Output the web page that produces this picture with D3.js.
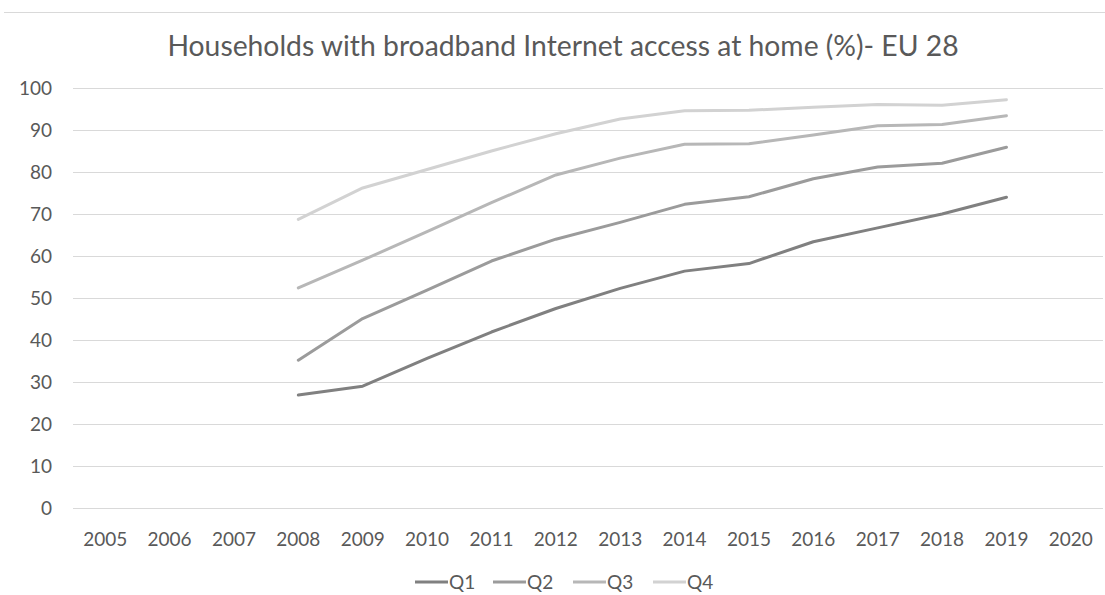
<!DOCTYPE html>
<html><head><meta charset="utf-8">
<script src="https://cdn.jsdelivr.net/npm/d3@7"></script>
<style>body{margin:0;background:#fff;} svg{display:block;font-family:Lato,"Open Sans",sans-serif;}</style>
</head><body>
<svg id="c" width="1105" height="595"></svg>
<script>
const years = ["2005","2006","2007","2008","2009","2010","2011","2012","2013","2014","2015","2016","2017","2018","2019","2020"];
const dataYears = ["2008","2009","2010","2011","2012","2013","2014","2015","2016","2017","2018","2019"];
const q1 = [26.9, 29.0, 35.6, 41.9, 47.5, 52.3, 56.4, 58.2, 63.4, 66.7, 70.0, 74.0];
const q2 = [35.2, 45.1, 51.9, 58.8, 64.0, 68.0, 72.3, 74.1, 78.4, 81.2, 82.1, 85.9];
const q3 = [52.4, 59.0, 65.8, 72.7, 79.3, 83.3, 86.6, 86.7, 88.8, 91.0, 91.3, 93.4];
const q4 = [68.7, 76.2, 80.6, 85.0, 89.1, 92.6, 94.6, 94.7, 95.4, 96.1, 95.9, 97.2];
const seriesNames = ["Q1","Q2","Q3","Q4"];
const yTicks = [0,10,20,30,40,50,60,70,80,90,100];
const title = "Households with broadband Internet access at home (%)- EU 28";

const series = [q1,q2,q3,q4];
const colors = ["#808080","#9b9b9b","#b7b7b7","#d2d2d2"];
const svg = d3.select("#c");
const m = {left:73, right:1103, top:88, bottom:508};
const x = d3.scaleBand().domain(years).range([m.left, m.right]);
const y = d3.scaleLinear().domain([0,100]).range([m.bottom, m.top]);

svg.append("line").attr("x1",4).attr("x2",1105).attr("y1",12.5).attr("y2",12.5).attr("stroke","#d9d9d9").attr("stroke-width",1);

svg.append("text").attr("x",563).attr("y",56).attr("text-anchor","middle")
  .attr("font-size",28.3).attr("fill","#595959").text(title);

const gy = svg.append("g");
gy.selectAll("line").data(yTicks).join("line")
  .attr("x1",m.left).attr("x2",m.right)
  .attr("y1",d=>Math.round(y(d))+0.5).attr("y2",d=>Math.round(y(d))+0.5)
  .attr("stroke","#d9d9d9").attr("stroke-width",1);
gy.selectAll("text").data(yTicks).join("text")
  .attr("x",52).attr("y",d=>y(d)).attr("dy","0.35em").attr("text-anchor","end")
  .attr("font-size",19).attr("fill","#595959").text(d=>d);

const xa = d3.axisBottom(x).tickSize(0).tickPadding(0);
const gx = svg.append("g").attr("transform",`translate(0,${m.bottom})`).call(xa);
gx.select(".domain").remove();
gx.selectAll("text").attr("font-size",19).attr("fill","#595959").attr("font-family","Lato").attr("dy","0").attr("y",38);

const line = d3.line().x((d,i)=>x(dataYears[i])+x.bandwidth()/2).y(d=>y(d));
series.forEach((s,i)=>{
  svg.append("path").datum(s).attr("d",line).attr("fill","none")
    .attr("stroke",colors[i]).attr("stroke-width",3).attr("stroke-linecap","round").attr("stroke-linejoin","round");
});

const legX = [415,493,573,653];
const lg = svg.append("g");
seriesNames.forEach((n,i)=>{
  lg.append("line").attr("x1",legX[i]).attr("x2",legX[i]+33).attr("y1",582).attr("y2",582)
    .attr("stroke",colors[i]).attr("stroke-width",3);
  lg.append("text").attr("x",legX[i]+34).attr("y",582).attr("dy","0.35em")
    .attr("font-size",19).attr("fill","#595959").text(n);
});
</script>
</body></html>
